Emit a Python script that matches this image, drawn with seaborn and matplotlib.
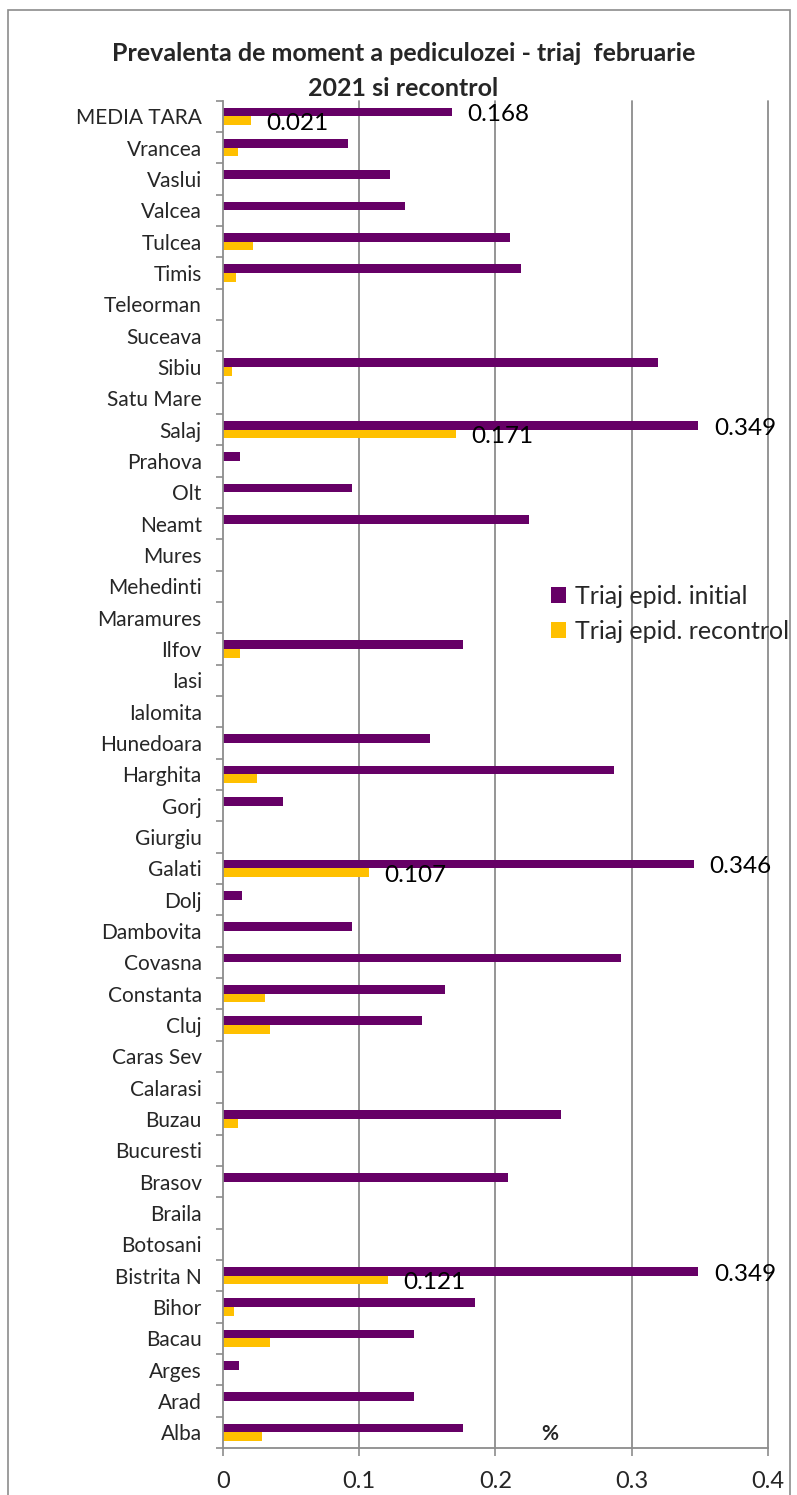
import numpy as np
import pandas as pd
import matplotlib
matplotlib.use("Agg")
import matplotlib.pyplot as plt
from matplotlib.patches import Rectangle, Patch
import seaborn as sns

# County names, top to bottom
judete = ["MEDIA TARA", "Vrancea", "Vaslui", "Valcea", "Tulcea", "Timis", "Teleorman",
          "Suceava", "Sibiu", "Satu Mare", "Salaj", "Prahova", "Olt", "Neamt", "Mures",
          "Mehedinti", "Maramures", "Ilfov", "Iasi", "Ialomita", "Hunedoara", "Harghita",
          "Gorj", "Giurgiu", "Galati", "Dolj", "Dambovita", "Covasna", "Constanta", "Cluj",
          "Caras Sev", "Calarasi", "Buzau", "Bucuresti", "Brasov", "Braila", "Botosani",
          "Bistrita N", "Bihor", "Bacau", "Arges", "Arad", "Alba"]

# Prevalence (%) at the initial screening
triaj_initial = [0.168, 0.092, 0.123, 0.134, 0.211, 0.219, 0, 0, 0.319, 0, 0.349, 0.013,
                 0.095, 0.225, 0, 0, 0, 0.176, 0, 0, 0.152, 0.287, 0.044, 0, 0.346, 0.014,
                 0.095, 0.292, 0.163, 0.146, 0, 0, 0.248, 0, 0.209, 0, 0, 0.349, 0.185,
                 0.140, 0.012, 0.140, 0.176]

# Prevalence (%) at the follow-up screening
triaj_recontrol = [0.021, 0.011, 0, 0, 0.022, 0.010, 0, 0, 0.007, 0, 0.171, 0, 0, 0, 0, 0,
                   0, 0.013, 0, 0, 0, 0.025, 0, 0, 0.107, 0, 0, 0, 0.031, 0.035, 0, 0,
                   0.011, 0, 0, 0, 0, 0.121, 0.008, 0.035, 0, 0, 0.029]

serii = ["Triaj epid. initial", "Triaj epid. recontrol"]
culori = ["#660066", "#FFC000"]
etichetate = ["MEDIA TARA", "Salaj", "Galati", "Bistrita N"]
x_ticks = [0, 0.1, 0.2, 0.3, 0.4]
x_tick_labels = ["0", "0.1", "0.2", "0.3", "0.4"]

df = pd.DataFrame({
    "judet": judete * 2,
    "valoare": triaj_initial + triaj_recontrol,
    "serie": [serii[0]] * len(judete) + [serii[1]] * len(judete),
})

sns.set_theme(style="white")
plt.rcParams["font.family"] = ["Lato", "DejaVu Sans"]

W, H = 797, 1495
fig = plt.figure(figsize=(W / 100, H / 100), dpi=100)
x0, x1 = 222.7, 768.0
y0, y1 = 100.7, 1448.0
ax = fig.add_axes([x0 / W, 1 - y1 / H, (x1 - x0) / W, (y1 - y0) / H])

sns.barplot(data=df, y="judet", x="valoare", hue="serie", order=judete,
            hue_order=serii, palette=culori, saturation=1, orient="h", width=0.55,
            errorbar=None, legend=False, linewidth=0, ax=ax)

ax.set_xlim(0, 0.4)
ax.set_ylim(len(judete) - 0.5, -0.5)
ax.set_xlabel("")
ax.set_ylabel("")

grid_col = "#8c8c8c"
ax.set_xticks(x_ticks)
ax.set_xticklabels(x_tick_labels, fontsize=17)
for xv in x_ticks[1:]:
    ax.axvline(xv, color=grid_col, lw=1.3, zorder=0, clip_on=False)

ax.set_yticks(range(len(judete)))
ax.set_yticklabels(judete, fontsize=15)
ax.set_yticks(np.arange(-0.5, len(judete), 1), minor=True)
ax.tick_params(axis="y", which="major", length=0, pad=15)
ax.tick_params(axis="y", which="minor", length=5, width=1.2, color=grid_col, left=True)
ax.tick_params(axis="x", which="major", length=6, width=1.2, color=grid_col,
               bottom=True, pad=10.5)

for s in ["top", "right"]:
    ax.spines[s].set_visible(False)
for s in ["left", "bottom"]:
    ax.spines[s].set_color(grid_col)
    ax.spines[s].set_linewidth(1.3)

# value labels for the national average and the highest counties
for cont, vals in zip(ax.containers, [triaj_initial, triaj_recontrol]):
    labels = [f"{v:.3f}" if j in etichetate else "" for j, v in zip(judete, vals)]
    texts = ax.bar_label(cont, labels=labels, padding=11, fontsize=17.5, color="black")
    for t in texts:
        x_off, y_off = t.xyann
        t.xyann = (x_off, y_off - 2)

ax.text(0.6, 0.003, "%", transform=ax.transAxes, fontsize=15, fontweight="bold",
        ha="center", va="bottom")

fig.text(0.506, 1 - 71 / H,
         "Prevalenta de moment a pediculozei - triaj  februarie\n2021 si recontrol",
         ha="center", va="center", fontsize=18, fontweight="bold", linespacing=1.6)

handles = [Patch(facecolor=c, edgecolor="none") for c in culori]
fig.legend(handles, serii, loc="upper left", bbox_to_anchor=(551 / W, 1 - 585 / H),
           bbox_transform=fig.transFigure, frameon=False, fontsize=18,
           handlelength=0.6, handleheight=0.6, handletextpad=0.35, labelspacing=0.48,
           borderpad=0, borderaxespad=0)

fig.add_artist(Rectangle((8 / W, -0.02), (790 - 8) / W, 1.02 - 10 / H,
                         transform=fig.transFigure, fill=False,
                         edgecolor="#8c8c8c", lw=1.2))

fig.savefig("out.png", dpi=100, facecolor="white")
